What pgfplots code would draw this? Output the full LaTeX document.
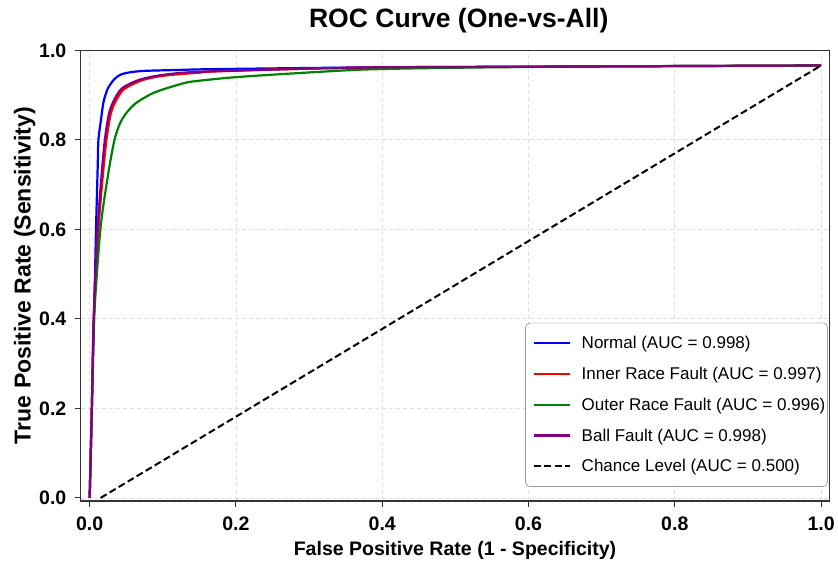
\documentclass[border=0pt]{standalone}
\usepackage{fontspec}
\setmainfont{Liberation Sans}
\usepackage{pgfplots}
\pgfplotsset{compat=1.18}
\definecolor{mblue}{RGB}{0,0,255}
\definecolor{mred}{RGB}{255,0,0}
\definecolor{mgreen}{RGB}{0,128,0}
\definecolor{mpurple}{RGB}{128,0,128}
\begin{document}
\begin{tikzpicture}
\begin{axis}[
    scale only axis,
    width=747pt, height=450pt,
    xmin=-0.012, xmax=1.011,
    ymin=-0.007, ymax=1.0,
    xtick={0,0.2,0.4,0.6,0.8,1.0},
    ytick={0,0.2,0.4,0.6,0.8,1.0},
    xticklabel style={/pgf/number format/fixed, /pgf/number format/fixed zerofill,
        /pgf/number format/precision=1, yshift=-6pt},
    yticklabel style={/pgf/number format/fixed, /pgf/number format/fixed zerofill,
        /pgf/number format/precision=1, xshift=-5pt},
    /pgf/number format/assume math mode=true,
    tick label style={font=\fontsize{19.5}{22}\selectfont\bfseries},
    tick align=outside,
    major tick length=6pt,
    tick style={line width=1.1pt, color=black!80},
    axis line style={line width=1.2pt, color=black!80},
    xtick pos=bottom, ytick pos=left,
    grid=major,
    grid style={line width=0.8pt, draw=gray!25, dash pattern=on 4pt off 3pt},
    title={ROC Curve (One-vs-All)},
    title style={font=\fontsize{26.5}{30}\selectfont\bfseries,
        at={(axis description cs:0.505,1.053)}, anchor=center, inner ysep=8pt},
    xlabel={False Positive Rate (1 - Specificity)},
    ylabel={True Positive Rate (Sensitivity)},
    xlabel style={font=\fontsize{19.5}{22}\selectfont\bfseries,
        at={(axis description cs:0.5,-0.11)}, anchor=center},
    ylabel style={font=\fontsize{23}{26}\selectfont\bfseries,
        at={(axis description cs:-0.075,0.5)}, anchor=center, inner ysep=14pt},
    legend style={at={(0.998,0.032)}, anchor=south east, draw=black!60, rounded corners=4pt,
        font=\fontsize{17}{20}\selectfont, row sep=13pt, inner xsep=0pt, inner ysep=11pt,
        nodes={inner xsep=2pt}, cells={anchor=west}},
    legend image code/.code={\draw[#1] (0pt,0pt) -- (36pt,0pt);
        \path[draw=none, fill=none] (-8pt,0pt) (46pt,0pt);},
]
% Normal
\addplot[mblue, line width=2.2pt, smooth, tension=0.45] coordinates {
    (0,0) (0.003,0.2) (0.006,0.4) (0.0087,0.6) (0.011,0.74) (0.012,0.80)
    (0.0155,0.845) (0.019,0.885) (0.025,0.915) (0.034,0.936) (0.043,0.946)
    (0.056,0.951) (0.075,0.954) (0.12,0.956) (0.175,0.958) (0.4,0.962)
    (0.7,0.964) (1,0.966)
};
\addlegendentry{Normal (AUC = 0.998)}
% Inner race fault
\addplot[mred, line width=2.2pt, smooth, tension=0.45] coordinates {
    (0,0) (0.003,0.2) (0.0055,0.4) (0.012,0.6) (0.018,0.72) (0.023,0.80)
    (0.030,0.865) (0.045,0.91) (0.07,0.932) (0.10,0.943) (0.15,0.950)
    (0.175,0.953) (0.3,0.959) (0.4,0.961) (0.7,0.964) (1,0.966)
};
\addlegendentry{Inner Race Fault (AUC = 0.997)}
% Outer race fault
\addplot[mgreen, line width=2.2pt, smooth, tension=0.45] coordinates {
    (0,0) (0.003,0.2) (0.006,0.4) (0.0147,0.6) (0.025,0.72) (0.034,0.80)
    (0.044,0.845) (0.061,0.879) (0.089,0.906) (0.13,0.927) (0.15,0.932)
    (0.2,0.940) (0.285,0.949) (0.376,0.957) (0.5,0.961) (0.7,0.964) (1,0.966)
};
\addlegendentry{Outer Race Fault (AUC = 0.996)}
% Ball fault
\addplot[mpurple, line width=2.2pt, smooth, tension=0.45] coordinates {
    (0,0) (0.003,0.2) (0.0055,0.4) (0.009,0.55) (0.0115,0.62) (0.0165,0.725)
    (0.021,0.803) (0.028,0.868) (0.043,0.913) (0.068,0.934) (0.10,0.945)
    (0.15,0.952) (0.3,0.959) (0.4,0.962) (0.7,0.964) (1,0.966)
};
\addlegendentry{Ball Fault (AUC = 0.998)}
% Chance level
\addplot[black, line width=2pt, dash pattern=on 7pt off 3.5pt] coordinates {
    (0.015,0) (1,0.966)
};
\addlegendentry{Chance Level (AUC = 0.500)}
\end{axis}
\end{tikzpicture}
\end{document}
